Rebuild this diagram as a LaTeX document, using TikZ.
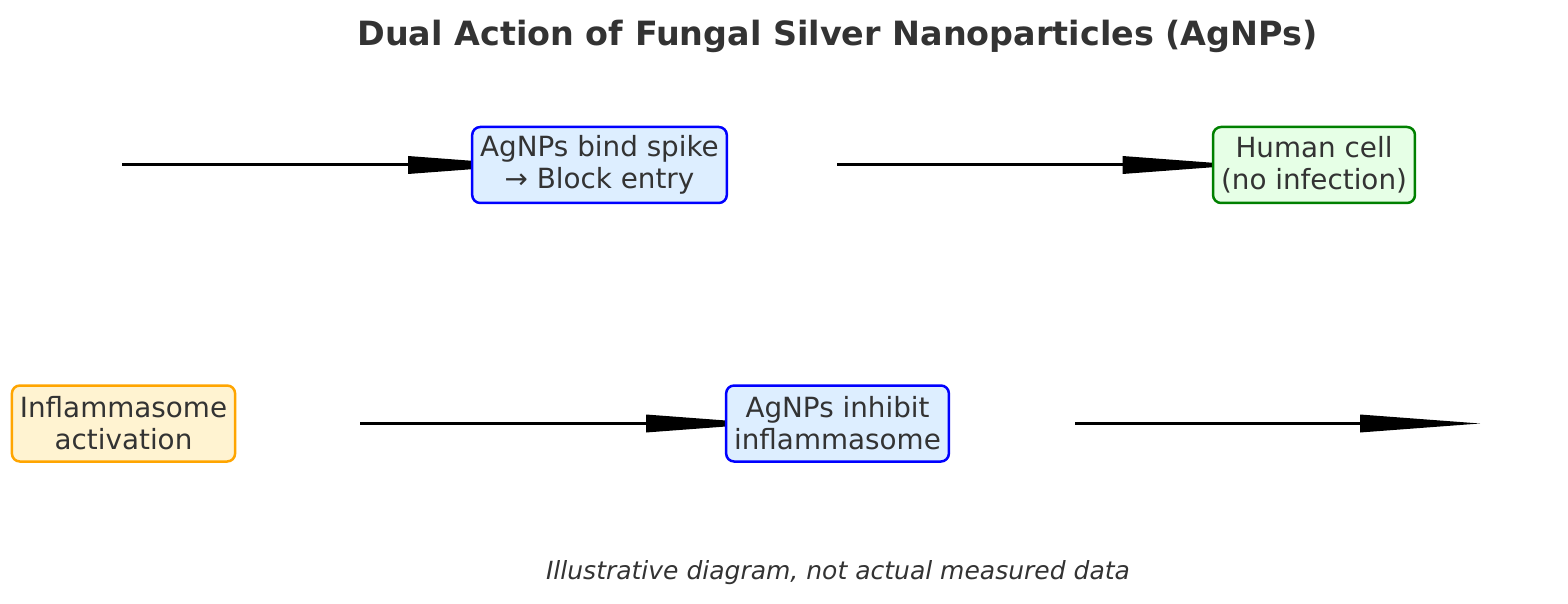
\documentclass[tikz,border=0pt]{standalone}
\usepackage{fontspec}
\setmainfont{DejaVu Sans}
\usetikzlibrary{arrows.meta,backgrounds}
\definecolor{txt}{HTML}{333333}
\definecolor{bluefill}{HTML}{DDEEFF}
\definecolor{greenfill}{HTML}{E6FFE6}
\definecolor{orangefill}{HTML}{FFF3D1}
\definecolor{orangeline}{HTML}{FFA500}
\definecolor{greenline}{HTML}{008000}
\definecolor{blueline}{HTML}{0000FF}
\tikzset{
  box/.style={draw, line width=1.25pt, rounded corners=4pt, align=center,
    text=txt, inner xsep=4pt, inner ysep=0pt, minimum height=38pt,
    font=\fontsize{13.9}{16}\selectfont},
  bluebox/.style={box, draw=blueline, fill=bluefill},
  greenbox/.style={box, draw=greenline, fill=greenfill},
  orangebox/.style={box, draw=orangeline, fill=orangefill},
  flow/.style={line width=1.5pt, -{Triangle[length=60pt,width=9pt,line width=0pt]}}
}
\begin{document}
\begin{tikzpicture}[x=0.5pt,y=-0.5pt]
\useasboundingbox (0,0) rectangle (1568,604);
\node[font=\fontsize{16.7}{19}\selectfont\bfseries, text=txt] (title) at (837.5,36) {Dual Action of Fungal Silver Nanoparticles (AgNPs)};
\node[bluebox] (bind) at (599.5,165) {AgNPs bind spike\\→ Block entry};
\node[greenbox] (cell) at (1314,165) {Human cell\\(no infection)};
\node[orangebox] (infl) at (123.5,423.5) {Inflammasome\\activation};
\node[bluebox] (inhib) at (837.5,423.5) {AgNPs inhibit\\inflammasome};
\node[font=\fontsize{12.5}{15}\selectfont\itshape, text=txt] (note) at (838,573) {Illustrative diagram, not actual measured data};
\coordinate (s1) at (122,165);
\coordinate (s2) at (837,165);
\coordinate (s3) at (360,423.5);
\coordinate (s4) at (1075,423.5);
\coordinate (e4) at (1480,423.5);
\begin{scope}[on background layer]
\draw[flow] (s1) -- ([xshift=-35.75pt]bind.center);
\draw[flow] (s2) -- ([xshift=-35.75pt]cell.center);
\draw[flow] (s3) -- ([xshift=-35.75pt]inhib.center);
\draw[flow] (s4) -- (e4);
\end{scope}
\end{tikzpicture}
\end{document}
